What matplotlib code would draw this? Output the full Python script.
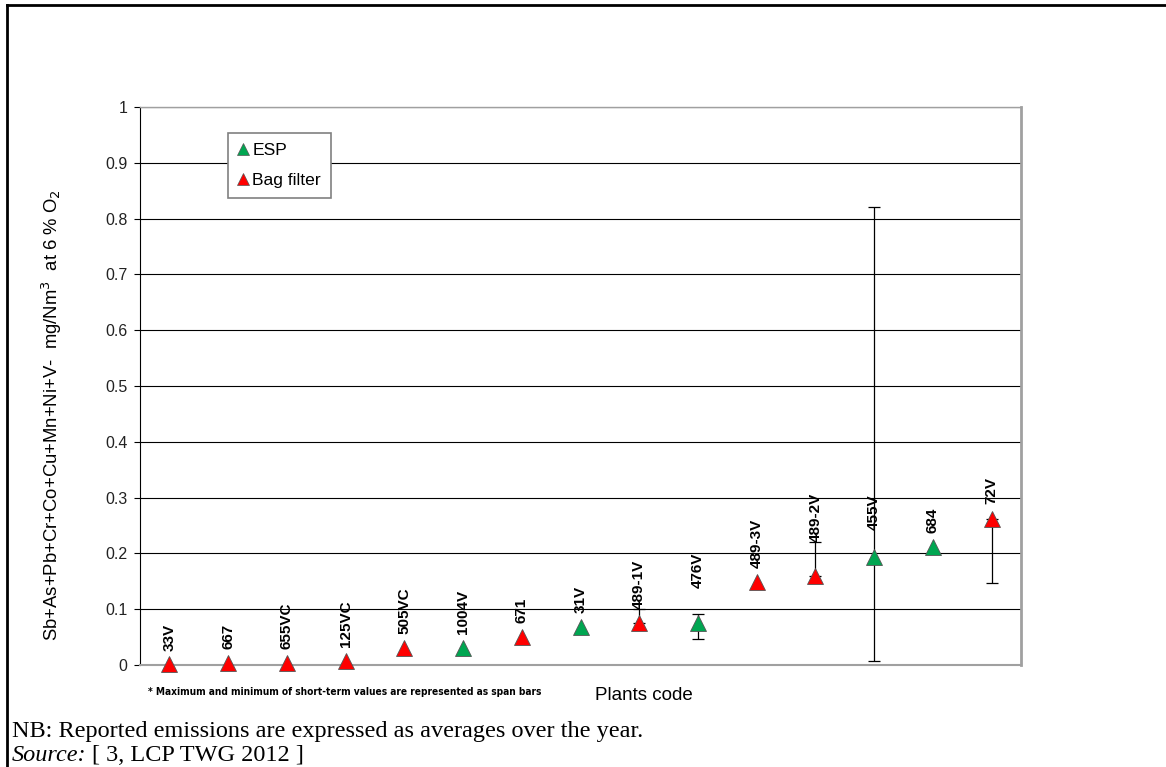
#!/usr/bin/env python3


import matplotlib
matplotlib.use('Agg')
import matplotlib.pyplot as plt
from matplotlib.lines import Line2D
import numpy as np


# Data. Plant codes, filter type, annual average and span bars (min, max).
plants = ['33V', '667', '655VC', '125VC', '505VC', '1004V', '671', '31V',
          '489-1V', '476V', '489-3V', '489-2V', '455V', '684', '72V']
filters = ['Bag', 'Bag', 'Bag', 'Bag', 'Bag', 'ESP', 'Bag', 'ESP',
           'Bag', 'ESP', 'Bag', 'Bag', 'ESP', 'ESP', 'Bag']
average = [0.001, 0.004, 0.004, 0.008, 0.030, 0.030, 0.050, 0.068,
           0.075, 0.075, 0.149, 0.160, 0.194, 0.212, 0.262]
span_min = [None, None, None, None, None, None, None, None,
            0.075, 0.047, None, 0.160, 0.007, None, 0.147]
span_max = [None, None, None, None, None, None, None, None,
            0.100, 0.091, None, 0.220, 0.820, None, 0.262]
yticks = [0, 0.1, 0.2, 0.3, 0.4, 0.5, 0.6, 0.7, 0.8, 0.9, 1]

# Label offsets above the marker, in points.
label_offset = [10, 10, 10, 10, 10, 10, 10, 10, 10, 25, 10, 24, 19, 10, 11]

colors = {'ESP': '#00a651', 'Bag': '#ff0000'}
serif = ['Liberation Serif', 'DejaVu Serif']

plt.rcParams['font.family'] = ['Liberation Sans', 'DejaVu Sans']


# Figure.
fig = plt.figure(figsize=(11.66, 7.67), dpi=100)
ax = fig.add_axes((140 / 1166, 1 - 665 / 767, 881 / 1166, 558 / 767))

x = np.arange(len(plants))

# Span bars.
for i in x:
    if span_min[i] is not None:
        ax.errorbar(i, average[i],
                    yerr=[[average[i] - span_min[i]], [span_max[i] - average[i]]],
                    fmt='none', ecolor='black', elinewidth=0.9, capsize=4,
                    capthick=0.9, zorder=3)

# Markers and labels.
for i in x:
    ax.plot(i, average[i], marker='^', ms=11.5, color=colors[filters[i]],
            markeredgecolor='#555555', markeredgewidth=0.6, ls='none',
            zorder=4, clip_on=False)
    ax.annotate(plants[i], (i, average[i]), xytext=(0, label_offset[i]),
                textcoords='offset points', rotation=90, ha='center',
                va='bottom', fontsize=11, fontweight='bold', zorder=5)

# Axes.
ax.set_xlim(-0.5, len(plants) - 0.5)
ax.set_ylim(0, 1)
ax.set_xticks([])
ax.set_yticks(yticks)
ax.set_yticklabels([f'{t:g}' for t in yticks], fontsize=11.5, color='#222222')
ax.tick_params(axis='y', length=4, width=0.8, pad=5)
ax.yaxis.grid(True, color='black', linewidth=0.8)
ax.set_axisbelow(True)
ax.spines['left'].set_color('black')
ax.spines['left'].set_linewidth(0.8)
for side, lw in (('top', 1.0), ('right', 2.0), ('bottom', 1.5)):
    ax.spines[side].set_color('#a0a0a0')
    ax.spines[side].set_linewidth(lw)

fig.text(52 / 1166, 1 - 415 / 767,
         r'Sb+As+Pb+Cr+Co+Cu+Mn+Ni+V-  mg/Nm$^3$  at 6 % O$_2$',
         rotation=90, ha='center', va='center', fontsize=13.3)

# Legend.
handles = [Line2D([], [], marker='^', ls='none', ms=9, color=colors[k],
                  markeredgecolor='#555555', markeredgewidth=0.5)
           for k in ('ESP', 'Bag')]
leg = ax.legend(handles, ['ESP', 'Bag filter'], loc='upper left',
                bbox_to_anchor=(228 / 1166, 1 - 133 / 767),
                bbox_transform=fig.transFigure, fancybox=False,
                edgecolor='#808080', framealpha=1, fontsize=12.6,
                handlelength=0.6, handletextpad=0.25, labelspacing=0.85,
                borderpad=0.55, borderaxespad=0)
leg.get_frame().set_linewidth(1.2)
leg.set_zorder(6)

# Footnotes.
fig.text(148 / 1166, 1 - 692 / 767,
         '* Maximum and minimum of short-term values are represented as span bars',
         family=['Liberation Sans Narrow', 'DejaVu Sans'], fontweight='bold',
         fontstretch='condensed', fontsize=7.3, va='center')
fig.text(595 / 1166, 1 - 695 / 767, 'Plants code', fontsize=13.5, va='center')
fig.text(12 / 1166, 1 - 742 / 767,
         'NB: Reported emissions are expressed as averages over the year.',
         family=serif, fontsize=17.5, va='bottom')
src = fig.text(12 / 1166, 1 - 766 / 767, 'Source:', family=serif,
               fontsize=17.5, style='italic', va='bottom')
ax.annotate('[ 3, LCP TWG 2012 ]', xy=(1, 0), xycoords=src,
            xytext=(4, 0), textcoords='offset points', family=serif,
            fontsize=17.5, va='bottom', annotation_clip=False)

# Page frame.
fig.add_artist(Line2D([6.5 / 1166, 6.5 / 1166], [0, 1 - 5 / 767],
                      color='black', lw=2, transform=fig.transFigure))
fig.add_artist(Line2D([6.5 / 1166, 1], [1 - 5 / 767, 1 - 5 / 767],
                      color='black', lw=2, transform=fig.transFigure))


# Output.
fig.savefig('out.png', dpi=100)
